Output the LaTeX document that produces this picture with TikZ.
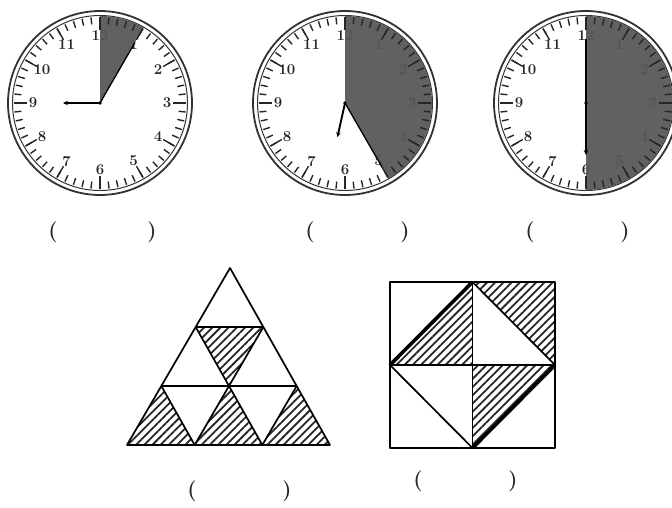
\documentclass[tikz,border=0pt]{standalone}
\usetikzlibrary{patterns.meta,calc,arrows.meta}

\begin{document}
\begin{tikzpicture}[x=1pt,y=1pt,
  rim/.style={line width=1.8pt,black!80},
  tick/.style={line width=1.4pt,black!85},
  dial/.style={font=\fontsize{15}{15}\selectfont\bfseries,inner sep=0pt,text=black!85},
  shade/.style={fill=black!66,fill opacity=.94},
  hand/.style={line width=1.9pt,line cap=round},
  blank/.style={font=\fontsize{21}{21}\selectfont\bfseries,inner sep=0pt,text=black!85},
  edge/.style={draw,line width=1.7pt,line join=round},
  hatch/.style={pattern={Lines[angle=45,distance=5.8pt,line width=1.8pt]},pattern color=black!85}]
  \useasboundingbox (0,0) rectangle (672,507);

  % three clocks: name/centre x/end of shading/hour hand/minute hand
  \foreach \k/\cx/\se/\ha/\hl/\ma/\ml in {ca/100/60/180/37/60/70,
      cb/345/-60/-102.5/35/-60/74, cc/586/-90/-90/52/90/64} {
    \coordinate (\k) at (\cx,404);
    \foreach \n in {1,...,12}
      \node[dial] (\k n\n) at ($(\k)+({90-30*\n}:67)$) {\n};
    \path[shade] (\k) -- ++(90:87) arc[start angle=90,end angle=\se,radius=87] -- cycle;
    \foreach \m in {0,...,59}
      \draw[tick] ($(\k)+({6*\m}:79)$) -- ($(\k)+({6*\m}:86)$);
    \foreach \m in {0,...,11}
      \draw[tick] ($(\k)+({30*\m}:73)$) -- ($(\k)+({30*\m}:86)$);
    \draw[rim] (\k) circle[radius=92];
    \draw[line width=1pt,black!80] (\k) circle[radius=87.5];
    \draw[hand,-{Stealth[length=5pt,width=4.5pt]}] (\k) -- ++(\ha:\hl);
    \draw[line width=1.3pt] (\k) -- ++(\ma:\ml);
    \fill (\k) circle[radius=1.8];
  }

  \node[blank] (pa1) at (53,275) {(};
  \node[blank] (pa2) at (152,275) {)};
  \node[blank] (pb1) at (310,275) {(};
  \node[blank] (pb2) at (405,275) {)};
  \node[blank] (pc1) at (530,275) {(};
  \node[blank] (pc2) at (625,275) {)};

  % triangle cut into nine
  \coordinate (t) at (230,239);
  \coordinate (bl) at (127,62);
  \coordinate (br) at (330,62);
  \coordinate (l1) at ($(bl)!1/3!(t)$);
  \coordinate (l2) at ($(bl)!2/3!(t)$);
  \coordinate (r1) at ($(br)!1/3!(t)$);
  \coordinate (r2) at ($(br)!2/3!(t)$);
  \coordinate (b1) at ($(bl)!1/3!(br)$);
  \coordinate (b2) at ($(bl)!2/3!(br)$);
  \coordinate (m1) at ($(l1)!1/2!(r1)$);
  \path[hatch] (bl) -- (b1) -- (l1) -- cycle;
  \path[hatch] (b1) -- (b2) -- (m1) -- cycle;
  \path[hatch] (b2) -- (br) -- (r1) -- cycle;
  \path[hatch] (l2) -- (r2) -- (m1) -- cycle;
  \path[edge] (bl) -- (br) -- (t) -- cycle;
  \path[edge] (l1) -- (r1) (l2) -- (r2);
  \path[edge] (l1) -- (b1) (m1) -- (b2) (r1) -- (b2) (m1) -- (b1);
  \path[edge] (l2) -- (m1) -- (r2);

  \node[blank] (pd1) at (192,16) {(};
  \node[blank] (pd2) at (287,16) {)};

  % square cut into eight
  \foreach \i in {0,1,2}
    \foreach \j in {0,1,2}
      \coordinate (s\i\j) at (390+82.5*\i,59+83*\j);
  \path[hatch] (s01) -- (s12) -- (s11) -- cycle;
  \path[hatch] (s12) -- (s22) -- (s21) -- cycle;
  \path[hatch] (s11) -- (s21) -- (s10) -- cycle;
  \path[edge] (s00) rectangle (s22);
  \path[edge] (s10) -- (s12) (s01) -- (s21);
  \path[edge] (s12) -- (s21) (s01) -- (s10);
  \path[edge,line width=3.6pt] (s01) -- (s12) (s21) -- (s10);

  \node[blank] (pe1) at (418,26) {(};
  \node[blank] (pe2) at (513,26) {)};
\end{tikzpicture}
\end{document}
